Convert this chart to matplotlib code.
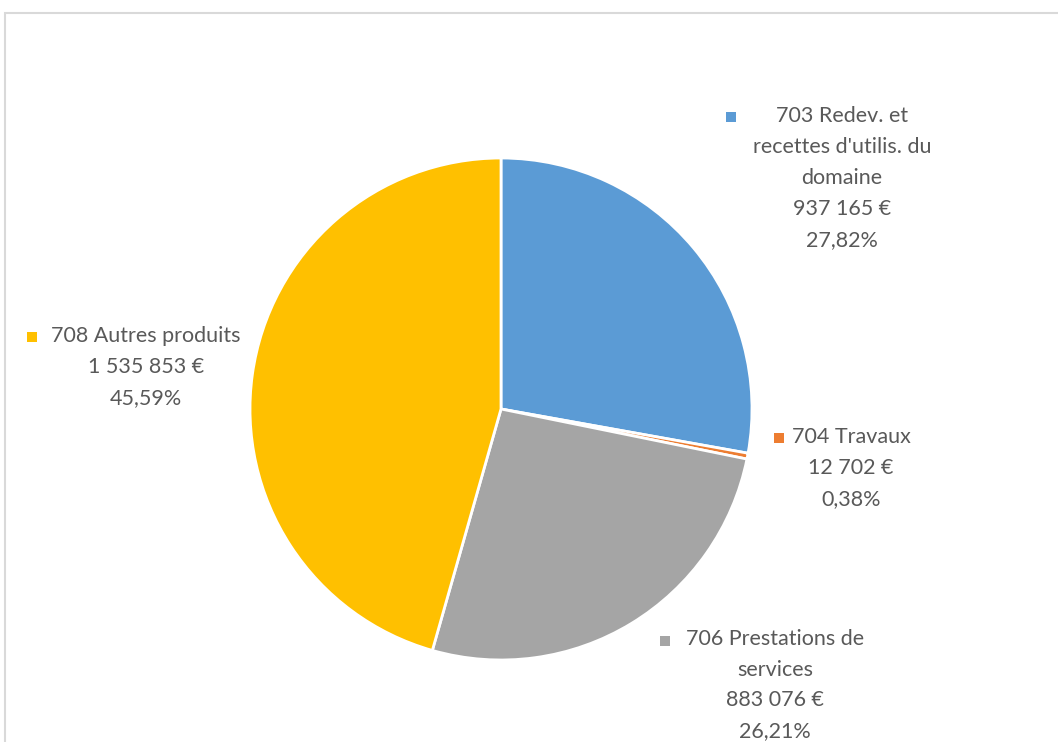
import matplotlib.pyplot as plt
from matplotlib.patches import Rectangle

# data
names = ["703 Redev. et\nrecettes d'utilis. du\ndomaine",
         "704 Travaux",
         "706 Prestations de\nservices",
         "708 Autres produits"]
values = [937165, 12702, 883076, 1535853]
colors = ["#5B9BD5", "#ED7D31", "#A5A5A5", "#FFC000"]

W, H = 1058, 742
TXT = "#595959"

plt.rcParams['font.family'] = ['Lato', 'DejaVu Sans']

fig = plt.figure(figsize=(W / 100, H / 100), dpi=100)
ax = fig.add_axes([0, 0, 1, 1])

# chart frame (light gray, runs off right / bottom)
fig.patches.append(Rectangle((4.5 / W, -0.05), 1.2, (H - 12.5) / H + 0.05,
                             transform=fig.transFigure, fill=False,
                             edgecolor="#D9D9D9", linewidth=1.5))

ax.pie(values, colors=colors, startangle=90, counterclock=False,
       center=(501, H - 409), radius=251,
       wedgeprops=dict(edgecolor='white', linewidth=2))

# pie() resets the limits, so set pixel-like limits afterwards
ax.set_xlim(0, W)
ax.set_ylim(0, H)
ax.set_aspect('equal')
ax.axis('off')

total = sum(values)

def fmt_eur(v):
    return "{:,}".format(v).replace(",", " ") + " €"

def fmt_pct(v):
    return "{:.2f}%".format(100 * v / total).replace(".", ",")

# label layout: (text center x, block center y, marker x, marker y) in px
label_pos = [(842, 178, 731, 117),
             (851, 468, 779, 438),
             (775, 685, 665, 641),
             (146, 367, 32, 337)]

for name, v, c, (tx, ty, mx, my) in zip(names, values, colors, label_pos):
    txt = name + "\n" + fmt_eur(v) + "\n" + fmt_pct(v)
    ax.text(tx, H - ty, txt, ha='center', va='center', fontsize=15.5,
            color=TXT, linespacing=1.68)
    ax.scatter([mx], [H - my], marker='s', s=52, color=c, linewidths=0)

fig.savefig("out.png", dpi=100)
